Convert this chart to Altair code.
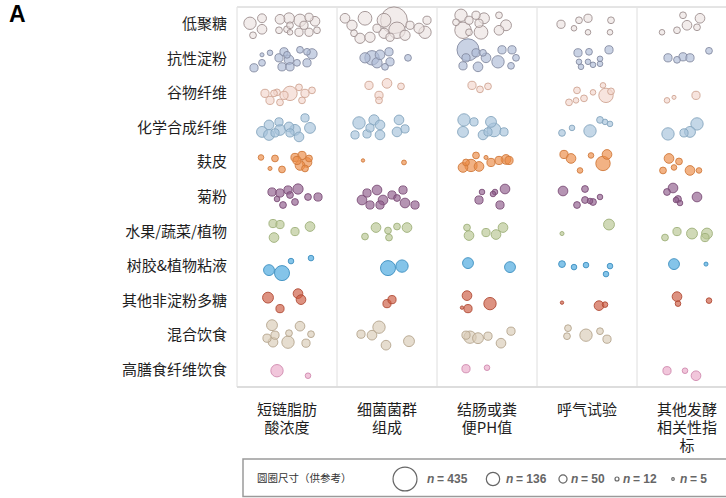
import altair as alt
import pandas as pd

CJK = "Noto Sans CJK SC"

rows = ["低聚糖", "抗性淀粉", "谷物纤维", "化学合成纤维", "麸皮", "菊粉",
        "水果/蔬菜/植物", "树胶&植物粘液", "其他非淀粉多糖", "混合饮食", "高膳食纤维饮食"]
measures = ["短链脂肪\n酸浓度", "细菌菌群\n组成", "结肠或粪\n便PH值", "呼气试验", "其他发酵\n相关性指\n标"]

fills = ["#ebe2e1", "#adbad6", "#f3d6cd", "#a5c3da", "#ec8a45", "#8f5c8c",
         "#b7c592", "#45a5de", "#cc5a40", "#d9cbb6", "#eaa8c8"]
strokes = ["#9e9090", "#858ca2", "#cfa594", "#86a6bf", "#d07a3c", "#7c4f78",
           "#9fb07a", "#3d8fc0", "#b04a35", "#b5a58e", "#cf8aae"]

legend_n = [435, 136, 50, 12, 5]
legend_title = "圆圈尺寸（供参考）"

# each bubble: (measure index, place across the cell 0-100, offset from the row centre, study size n)
b_oligo = [(0,13,-1,93),(0,25,-6,48),(0,25,5,57),(0,16,11,28),(0,43,-5,57),(0,52,-6,72),(0,63,-4,93),
           (0,72,-7,41),(0,78,-3,57),(0,42,6,28),(0,50,5,28),(0,53,8,19),(0,62,8,41),(0,72,8,41),
           (0,80,6,28),(0,53,1,28),(0,67,1,41),
           (1,8,-6,57),(1,15,1,64),(1,17,9,28),(1,28,-6,115),(1,23,14,64),(1,33,13,64),(1,40,4,41),
           (1,47,-4,115),(1,57,-4,435),(1,60,6,165),(1,68,11,64),(1,73,1,41),(1,82,4,64),(1,90,-4,41),
           (1,88,8,93),(1,47,9,64),(1,53,13,41),
           (2,24,-9,93),(2,32,-4,41),(2,39,-9,41),(2,47,-6,72),(2,62,-9,28),(2,69,1,72),(2,62,6,57),
           (2,26,6,165),(2,44,8,115),(2,32,8,28),(2,19,-2,28),(2,42,-1,41),
           (3,24,0,41),(3,37,4,19),(3,42,-4,28),(3,51,-6,41),(3,51,8,19),(3,74,-4,28),(3,73,8,19),
           (4,46,-9,28),(4,63,-6,57),(4,50,1,57),(4,40,6,28),(4,25,8,19),(4,60,3,28)]
b_resist = [(0,25,-4,10),(0,33,-6,19),(0,25,4,28),(0,17,9,41),(0,42,-1,41),(0,47,-7,41),(0,52,1,57),
            (0,45,8,41),(0,53,8,41),(0,60,4,28),(0,63,-9,28),(0,70,-7,28),(0,75,-5,64),(0,70,4,41),
            (0,50,-4,28),
            (1,28,-1,64),(1,35,-1,126),(1,43,-4,57),(1,52,-7,41),(1,53,3,41),(1,48,8,28),(1,71,-1,28),
            (1,40,4,64),
            (2,31,-9,295),(2,29,-1,41),(2,39,-6,41),(2,49,-1,57),(2,26,7,41),(2,41,8,57),(2,61,3,93),
            (2,65,-9,41),(2,75,-9,41),(2,79,-1,28),(2,74,7,28),(2,46,-6,28),
            (3,41,-6,41),(3,52,-7,28),(3,72,-9,41),(3,42,3,19),(3,51,3,19),(3,56,6,19),(3,63,5,19),
            (3,63,0,19),(3,44,8,19),
            (4,31,-1,41),(4,40,1,28),(4,46,-2,41),(4,53,-1,41),(4,72,-8,28)]
b_cereal = [(0,28,0,41),(0,33,7,41),(0,40,-1,28),(0,47,2,41),(0,53,0,126),(0,62,-6,28),(0,68,0,41),
            (0,75,-3,28),(0,65,7,28),(0,43,9,28),(0,37,0,28),
            (1,32,-8,41),(1,50,-10,57),(1,64,-7,28),(1,42,2,41),(1,42,7,28),
            (2,35,-8,41),(2,43,-4,28),(2,51,-7,28),
            (3,40,-3,28),(3,56,-1,19),(3,66,-8,19),(3,69,2,126),(3,47,5,28),(3,39,7,19),(3,32,9,28),
            (3,74,-2,28),
            (4,30,7,19),(4,37,4,10),(4,59,2,41)]
b_synth = [(0,25,4,72),(0,32,-3,57),(0,32,7,72),(0,42,-6,41),(0,43,2,72),(0,52,-1,57),(0,58,2,72),
           (0,62,9,57),(0,68,-10,41),(0,73,0,72),(0,38,5,41),(0,53,5,41),
           (1,22,-5,93),(1,37,-8,64),(1,43,-3,57),(1,18,7,41),(1,30,6,41),(1,43,7,57),(1,62,-8,57),
           (1,60,4,57),(1,68,1,41),(1,33,0,41),
           (2,27,-8,93),(2,37,-6,41),(2,26,4,72),(2,54,-6,72),(2,57,2,115),(2,46,7,57),(2,67,4,41),
           (2,51,4,41),
           (3,25,5,28),(3,35,0,19),(3,53,3,93),(3,63,-8,28),(3,68,-6,19),(3,73,-4,19),
           (4,31,6,93),(4,47,5,41),(4,53,4,72),(4,60,-4,93)]
b_bran = [(0,24,-5,19),(0,38,-4,28),(0,33,6,10),(0,45,7,28),(0,58,-5,41),(0,65,-7,41),(0,70,0,57),
          (0,63,3,57),(0,60,-2,41),(0,68,6,28),(0,72,-4,28),
          (1,26,-2,7),(1,67,0,14),
          (2,26,5,57),(2,34,3,93),(2,39,-7,28),(2,42,4,57),(2,54,0,41),(2,62,-2,41),(2,69,-3,57),
          (2,72,-2,41),(2,29,0,28),(2,49,-5,10),
          (3,27,-8,41),(3,34,-4,57),(3,54,-7,19),(3,43,8,19),(3,66,1,126),(3,70,-8,57),
          (4,32,-4,57),(4,42,-1,28),(4,37,5,19),(4,26,8,28),(4,53,8,57),(4,62,8,19)]
b_inulin = [(0,35,-5,41),(0,43,-4,41),(0,51,-7,41),(0,61,-8,64),(0,53,-2,28),(0,46,8,28),(0,58,5,28),
            (0,71,0,28),(0,81,0,41),(0,40,2,19),
            (1,25,3,57),(1,30,-4,41),(1,40,-7,57),(1,33,8,41),(1,46,3,57),(1,43,8,41),(1,55,-2,41),
            (1,66,-7,41),(1,68,6,57),(1,78,8,41),(1,60,1,28),
            (2,45,-5,19),(2,42,3,41),(2,58,-5,19),(2,68,-8,57),(2,63,8,41),(2,56,-3,19),
            (3,26,-6,57),(3,48,-8,28),(3,48,3,28),(3,40,8,28),(3,56,5,28),(3,63,0,19),(3,53,4,19),
            (4,36,-9,57),(4,30,-5,28),(4,41,2,28),(4,43,6,19),(4,60,0,57),(4,39,3,19)]
b_fruit = [(0,36,-8,41),(0,43,-7,41),(0,37,6,57),(0,58,0,41),(0,73,-5,57),
           (1,28,5,28),(1,39,-4,57),(1,51,-1,28),(1,60,-5,28),(1,70,-4,57),(1,52,6,28),
           (2,30,-4,28),(2,32,4,57),(2,49,1,41),(2,59,3,57),(2,66,-4,57),
           (3,25,2,10),(3,72,-7,72),
           (4,28,6,28),(4,40,0,41),(4,55,2,72),(4,70,2,72),(4,68,6,41)]
b_gum = [(0,32,4,72),(0,45,7,137),(0,54,-5,19),(0,74,-8,19),
         (1,51,2,137),(1,65,0,93),
         (2,31,-3,72),(2,73,1,72),
         (3,25,-2,28),(3,37,1,19),(3,49,-1,19),(3,73,0,19),(3,69,8,19),
         (4,37,-2,72),(4,69,-2,10)]
b_nsp = [(0,31,-3,72),(0,61,-7,57),(0,64,-1,57),(0,43,8,41),
         (1,50,3,41),(1,55,-1,41),
         (2,30,-5,57),(2,31,8,41),(2,25,7,7),(2,53,3,93),
         (3,25,2,7),(3,62,5,57),(3,68,4,19),
         (4,40,-4,57),(4,41,3,19),(4,72,0,19)]
b_mixed = [(0,35,-10,72),(0,63,-9,57),(0,30,3,41),(0,38,0,41),(0,36,7,57),(0,51,7,93),(0,52,-2,28),
           (0,74,-1,28),(0,69,8,41),
           (1,42,-8,93),(1,24,-1,41),(1,35,0,57),(1,49,10,57),(1,72,6,72),
           (2,33,2,93),(2,41,3,72),(2,51,1,41),(2,64,8,57),(2,74,-4,41),(2,29,0,41),
           (3,31,-7,28),(3,30,1,28),(3,49,0,93),(3,63,-4,28),(3,70,4,41)]
b_highfib = [(0,40,1,93),(0,71,6,19),
             (2,29,-1,41),(2,50,-2,19),
             (4,30,1,41),(4,48,1,19),(4,59,6,57)]

groups = [b_oligo, b_resist, b_cereal, b_synth, b_bran, b_inulin,
          b_fruit, b_gum, b_nsp, b_mixed, b_highfib]

W, H = 489, 380
ROW_PX = H / len(rows)

recs = []
for i, grp in enumerate(groups):
    for c, across, off, n in grp:
        recs.append({"fiber": rows[i], "measure": measures[c].replace("\n", ""),
                     "x": c + across / 100.0, "y": i + 0.5 + off / ROW_PX, "n": n})
bubbles = pd.DataFrame(recs)

xscale = alt.Scale(domain=[0, W / 100.0], nice=False, zero=False)
yscale = alt.Scale(domain=[0, len(rows)], reverse=True, nice=False, zero=False)
LEGEND_AREA = 3.14159 * 13.5 * 13.5
SIZE_K = LEGEND_AREA / 435
size_scale = alt.Scale(type="linear", domain=[0, 435], range=[0, LEGEND_AREA * 1.25], zero=True)

base_bubbles = alt.Chart(bubbles).mark_circle(
    fillOpacity=0.66, strokeWidth=1, strokeOpacity=0.9
).encode(
    x=alt.X("x:Q", scale=xscale, axis=None),
    y=alt.Y("y:Q", scale=yscale, axis=None),
    size=alt.Size("n:Q", scale=size_scale, legend=None),
    fill=alt.Fill("fiber:N", scale=alt.Scale(domain=rows, range=fills), legend=None),
    stroke=alt.Stroke("fiber:N", scale=alt.Scale(domain=rows, range=strokes), legend=None),
    order=alt.Order("n:Q", sort="descending"),
)

sep_df = pd.DataFrame({"x": list(range(len(measures)))})
separators = alt.Chart(sep_df).mark_rule(color="#dedede", strokeWidth=1).encode(
    x=alt.X("x:Q", scale=xscale, axis=None),
    y=alt.value(0), y2=alt.value(H),
)
top_line = alt.Chart(sep_df).mark_rule(color="#e4e4e4", strokeWidth=1).encode(
    x=alt.value(0), x2=alt.value(W), y=alt.value(0))
bottom_line = alt.Chart(sep_df).mark_rule(color="#dcdcdc", strokeWidth=1.2).encode(
    x=alt.value(0), x2=alt.value(W), y=alt.value(H))

row_df = pd.DataFrame({"label": rows, "y": [i + 0.5 for i in range(len(rows))]})
row_labels = alt.Chart(row_df).mark_text(
    align="right", baseline="middle", fontSize=15, font=CJK, color="#1e1e1e"
).encode(
    x=alt.value(-10),
    y=alt.Y("y:Q", scale=yscale, axis=None),
    text="label:N",
)

# column labels, one layer per text line
line_recs = []
for i, m in enumerate(measures):
    for k, part in enumerate(m.split("\n")):
        line_recs.append({"label": part, "x": i + 0.5, "line": k})
lines_df = pd.DataFrame(line_recs)
col_label_layers = []
for k in range(int(lines_df["line"].max()) + 1):
    col_label_layers.append(alt.Chart(lines_df[lines_df["line"] == k]).mark_text(
        align="center", baseline="middle", fontSize=15, font=CJK, color="#1e1e1e"
    ).encode(
        x=alt.X("x:Q", scale=xscale, axis=None),
        y=alt.value(403 + 18 * k),
        text="label:N",
    ))

one = pd.DataFrame({"a": [0]})
panel_letter = alt.Chart(one).mark_text(
    text="A", align="left", baseline="alphabetic", fontSize=23, fontWeight="bold",
    font="Liberation Sans", color="#000000"
).encode(x=alt.value(-228), y=alt.value(15))

legend_box = alt.Chart(one).mark_rect(
    fill="white", stroke="#9a9a9a", strokeWidth=1.5
).encode(x=alt.value(6), x2=alt.value(520), y=alt.value(452), y2=alt.value(489.5))

legend_layers = [legend_box]
legend_layers.append(alt.Chart(one).mark_text(
    text=legend_title, align="left", baseline="middle", fontSize=10.5, font=CJK, color="#333333"
).encode(x=alt.value(20), y=alt.value(472)))

circle_px = [168, 256, 326, 380, 436]
label_px = [190, 269, 334, 386, 443]
for n, cx, lx in zip(legend_n, circle_px, label_px):
    legend_layers.append(alt.Chart(one).mark_point(
        shape="circle", filled=False, color="#666666", strokeWidth=1.2, opacity=1
    ).encode(x=alt.value(cx), y=alt.value(472), size=alt.value(n * SIZE_K)))
    legend_layers.append(alt.Chart(one).mark_text(
        text="n", align="left", baseline="middle", fontSize=12, fontStyle="italic",
        fontWeight="bold", font="Liberation Sans", color="#666666"
    ).encode(x=alt.value(lx), y=alt.value(472)))
    legend_layers.append(alt.Chart(one).mark_text(
        text="= " + str(n), align="left", baseline="middle", fontSize=12,
        fontWeight="bold", font="Liberation Sans", color="#666666"
    ).encode(x=alt.value(lx + 10), y=alt.value(472)))

chart = alt.layer(
    separators, top_line, bottom_line, base_bubbles, row_labels, *col_label_layers,
    panel_letter, *legend_layers
).properties(
    width=W, height=H,
    padding={"left": 237, "top": 7, "right": 0, "bottom": 111},
    autosize=alt.AutoSizeParams(type="none"),
    background="white",
).configure_view(stroke=None)

chart.save("out.html", embed_options={"renderer": "svg", "actions": False})
